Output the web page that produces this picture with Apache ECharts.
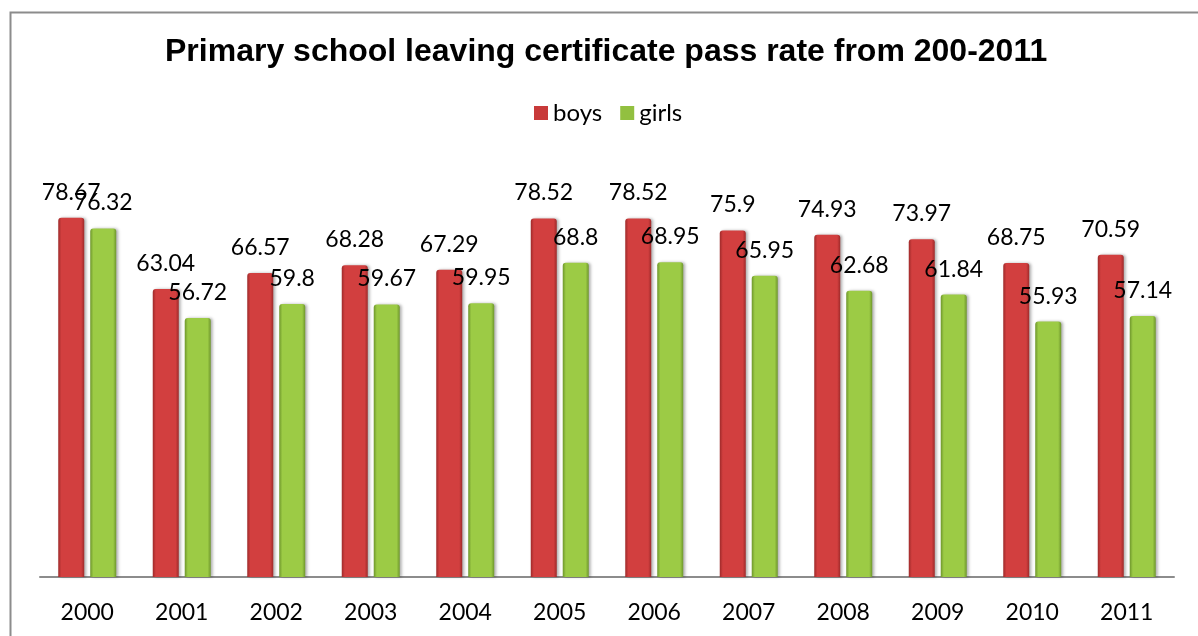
<!DOCTYPE html>
<html>
<head>
<meta charset="utf-8">
<script src="https://cdn.jsdelivr.net/npm/echarts@6/dist/echarts.min.js"></script>
<style>
html,body{margin:0;padding:0;background:#fff;}
#c{width:1198px;height:636px;}
</style>
</head>
<body>
<div id="c"></div>
<script>
const titleText = 'Primary school leaving certificate pass rate from 200-2011';
const categories = ['2000','2001','2002','2003','2004','2005','2006','2007','2008','2009','2010','2011'];
const boys = [78.67, 63.04, 66.57, 68.28, 67.29, 78.52, 78.52, 75.9, 74.93, 73.97, 68.75, 70.59];
const girls = [76.32, 56.72, 59.8, 59.67, 59.95, 68.8, 68.95, 65.95, 62.68, 61.84, 55.93, 57.14];

const chart = echarts.init(document.getElementById('c'));
function grad(edge, mid){
  return new echarts.graphic.LinearGradient(0,0,1,0,[
    {offset:0,color:edge},{offset:0.12,color:mid},{offset:0.5,color:mid},{offset:0.88,color:mid},{offset:1,color:edge}
  ]);
}
const labelStyle = {show:true, position:'top', distance:14, fontFamily:'Lato', fontSize:23, color:'#000'};
chart.setOption({
  animation:false,
  backgroundColor:'#fff',
  title:{text:titleText, left:160, top:31, textStyle:{fontFamily:'Liberation Sans', fontWeight:'bold', fontSize:32, color:'#000'}},
  legend:{top:96, left:529, itemWidth:14, itemHeight:14, itemGap:18, textStyle:{fontFamily:'Lato', fontSize:24, color:'#000'},
    data:[{name:'boys', icon:'rect', itemStyle:{color:'#C83A3A'}},{name:'girls', icon:'rect', itemStyle:{color:'#92C040'}}]},
  graphic:[{type:'polyline', shape:{points:[[10.5,636],[10.5,12.5],[1198,12.5]]}, style:{stroke:'#8c8c8c', lineWidth:2, fill:null}, silent:true}],
  grid:{left:40, right:24, top:166, bottom:59},
  xAxis:{type:'category', data:categories, axisLine:{lineStyle:{color:'#8c8c8c', width:2}}, axisTick:{show:false},
    axisLabel:{fontFamily:'Lato', fontSize:23, color:'#000', margin:24}},
  yAxis:{type:'value', min:0, max:90, show:false, splitLine:{show:false}},
  series:[
    {name:'boys', type:'bar', data:boys, barWidth:26, barGap:'23%',
      itemStyle:{color:grad('#9E2A2A','#D23F3F'), borderRadius:[3,3,0,0], shadowColor:'rgba(0,0,0,0.3)', shadowBlur:3, shadowOffsetX:2},
      label:labelStyle},
    {name:'girls', type:'bar', data:girls, barWidth:26,
      itemStyle:{color:grad('#6E962C','#9CCB45'), borderRadius:[3,3,0,0], shadowColor:'rgba(0,0,0,0.3)', shadowBlur:3, shadowOffsetX:2},
      label:labelStyle}
  ]
});
</script>
</body>
</html>
